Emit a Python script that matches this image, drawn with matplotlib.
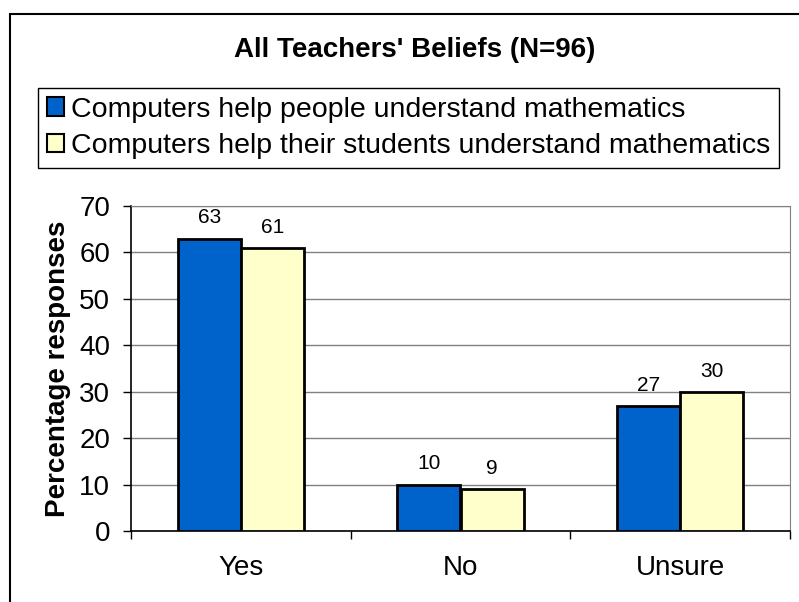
import matplotlib.pyplot as plt
import matplotlib.patches as mpatches
import numpy as np

plt.rcParams['font.family'] = ['Liberation Sans', 'DejaVu Sans']

categories = ['Yes', 'No', 'Unsure']
people_vals = [63, 10, 27]
students_vals = [61, 9, 30]
series_names = ['Computers help people understand mathematics',
                'Computers help their students understand mathematics']
title = "All Teachers' Beliefs (N=96)"

blue = '#0063CC'
cream = '#FFFFCC'

fig = plt.figure(figsize=(7.99, 6.02), dpi=100)
ax = fig.add_axes([131 / 799, 1 - 531 / 602, (790 - 131) / 799, (531 - 206) / 602])

x = np.arange(len(categories))
w = 0.287
b1 = ax.bar(x - w / 2, people_vals, w, color=blue, edgecolor='black', linewidth=2, zorder=3)
b2 = ax.bar(x + w / 2, students_vals, w, color=cream, edgecolor='black', linewidth=2, zorder=3)

# value labels above each bar
for bars, vals in ((b1, people_vals), (b2, students_vals)):
    for rect, v in zip(bars, vals):
        ax.annotate(str(v), (rect.get_x() + rect.get_width() / 2, rect.get_height()),
                    xytext=(0, 8), textcoords='offset points', ha='center', va='bottom',
                    fontsize=15, zorder=4)

ax.set_xlim(-0.5, 2.5)
ax.set_ylim(0, 70)
ax.set_yticks(np.arange(0, 71, 10))
ax.tick_params(axis='y', direction='out', length=6, width=1, labelsize=20, pad=9)
ax.set_xticks(x)
ax.set_xticklabels(categories)
ax.tick_params(axis='x', which='major', length=0, labelsize=20, pad=17)
ax.set_xticks([-0.5, 0.5, 1.5, 2.5], minor=True)
ax.tick_params(axis='x', which='minor', direction='out', length=6, width=1)

ax.yaxis.grid(True, color='#808080', linewidth=1)
ax.set_axisbelow(True)
for s in ('top', 'right'):
    ax.spines[s].set_color('#808080')
for s in ('left', 'bottom'):
    ax.spines[s].set_color('black')
    ax.spines[s].set_linewidth(1.2)

ax.set_ylabel('Percentage responses', fontsize=20, fontweight='bold', labelpad=6)

fig.text(415 / 799, 1 - 50 / 602, title, ha='center', va='center', fontsize=20, fontweight='bold')

handles = [mpatches.Patch(facecolor=blue, edgecolor='black', linewidth=1.5),
           mpatches.Patch(facecolor=cream, edgecolor='black', linewidth=1.5)]
leg = fig.legend(handles, series_names, loc='upper left',
                 bbox_to_anchor=(38 / 799, 1 - 88 / 602), fontsize=20.5,
                 handlelength=0.6, handleheight=0.6, handletextpad=0.25,
                 labelspacing=0.38, borderpad=0.3, borderaxespad=0,
                 fancybox=False, edgecolor='black', framealpha=1)
leg.get_frame().set_linewidth(1)

frame = mpatches.Rectangle((9.5 / 799, -0.1), 1.2, 1.1 - 14 / 602, transform=fig.transFigure,
                           fill=False, edgecolor='black', linewidth=1.5, clip_on=False)
fig.patches.append(frame)

fig.savefig('out.png', dpi=100)
